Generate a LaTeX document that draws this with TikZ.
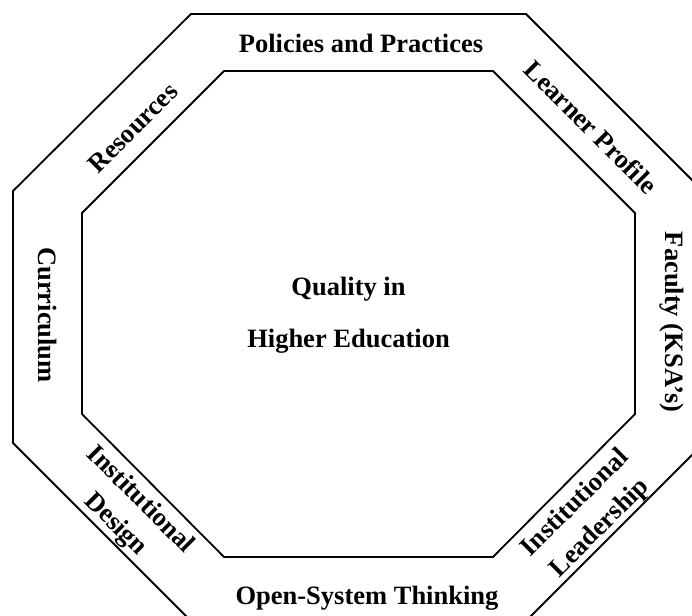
\documentclass[tikz,border=0pt]{standalone}
\usepackage{fontspec}
\setmainfont{Liberation Serif}
\tikzset{lbl/.style={font=\fontsize{26.5}{35}\selectfont\bfseries, inner sep=0pt, align=center}}
\begin{document}
\begin{tikzpicture}[x=1pt,y=-1pt,line width=1.8pt]
\useasboundingbox (0,0) rectangle (692,615);
\clip (0,0) rectangle (692,615);
\draw (191,14) -- (526,14) -- (704,192) -- (704,443) -- (526,621) -- (191,621) -- (13,443) -- (13,191) -- cycle;
\draw (224,71) -- (493,71) -- (635,213) -- (635,414) -- (493,557) -- (224,557) -- (82,414) -- (82,213) -- cycle;
\node[lbl,anchor=base] (pol) at (361,53) {Policies and Practices};
\node[lbl,rotate=45] (res) at (133,128) {Resources};
\node[lbl,rotate=-45] (lrn) at (591,127) {Learner Profile};
\node[lbl,rotate=-90] (cur) at (47.5,315) {Curriculum};
\node[lbl,rotate=-90] (fac) at (672,322) {Faculty (KSA's)};
\node[lbl,rotate=-45] (des) at (127.5,512.5) {Institutional\\Design};
\node[lbl,rotate=45] (lead) at (588,516) {Institutional\\Leadership};
\node[lbl,anchor=base] (open) at (367,604) {Open-System Thinking};
\node[lbl,anchor=base] (qual) at (348.5,295) {Quality in};
\node[lbl,anchor=base] (hied) at (348.5,347) {Higher Education};
\end{tikzpicture}
\end{document}
